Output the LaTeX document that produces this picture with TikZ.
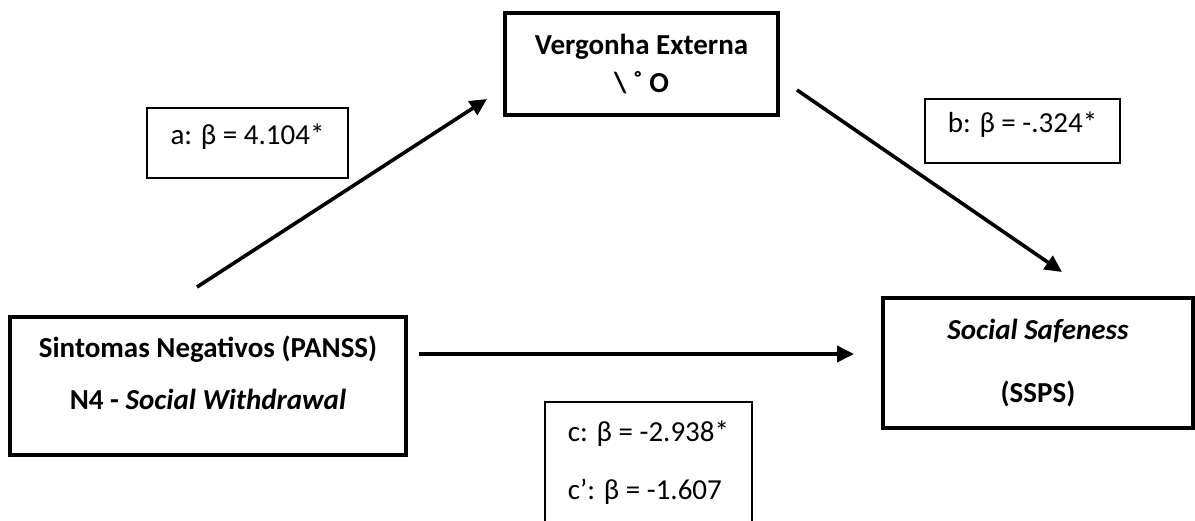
\documentclass[tikz,border=0pt]{standalone}
\usepackage{fontspec}
\setmainfont{Carlito}
\usetikzlibrary{arrows.meta}

\begin{document}
\begin{tikzpicture}[x=0.5pt,y=-0.5pt,>={Triangle[length=8.5pt,width=8pt]}]
    \tikzstyle{every node}=[font=\fontsize{14.5}{17.4}\selectfont,align=center,inner sep=0pt];
    \tikzstyle{every path}=[line width=1.8pt];
    \tikzstyle{varbox}=[draw,line width=1.8pt];
    \tikzstyle{coefbox}=[draw,line width=0.6pt,text height=10pt,text depth=8.7pt];

    \useasboundingbox (0,0) rectangle (1195,520);

    \node[varbox,minimum width=136.5pt,minimum height=51pt] (verg) at (641.5,64) {\textbf{Vergonha Externa}\\[2pt]\textbf{\textbackslash\ ˚ O}};
    \node[varbox,minimum width=198pt,minimum height=69pt,text depth=13.5pt] (sint) at (208,386) {\textbf{Sintomas Negativos (PANSS)}\\[8.6pt]\textbf{N4 - \textit{Social Withdrawal}}};
    \node[varbox,minimum width=155pt,minimum height=65pt] (safe) at (1038,363) {\textbf{\textit{Social Safeness}}\\[14pt]\textbf{(SSPS)}};

    \node[coefbox,minimum width=100.5pt,minimum height=35pt] (coefa) at (247.5,143) {a: β = 4.104*};
    \node[coefbox,minimum width=97.5pt,minimum height=32pt] (coefb) at (1022.5,131) {b: β = -.324*};
    \node[draw,line width=0.6pt,align=left,minimum width=103.5pt,minimum height=61pt] (coefc) at (648.5,463) {c: β = -2.938*\\[11.5pt]c’: β = -1.607};

    \coordinate (a0) at (197,287);
    \coordinate (a1) at (487,99);
    \coordinate (b0) at (797,90);
    \coordinate (b1) at (1062,272);
    \coordinate (c0) at (419,354);
    \coordinate (c1) at (854,354);

    \draw[->] (a0) -- (a1);
    \draw[->] (b0) -- (b1);
    \draw[->] (c0) -- (c1);

\end{tikzpicture}
\end{document}
